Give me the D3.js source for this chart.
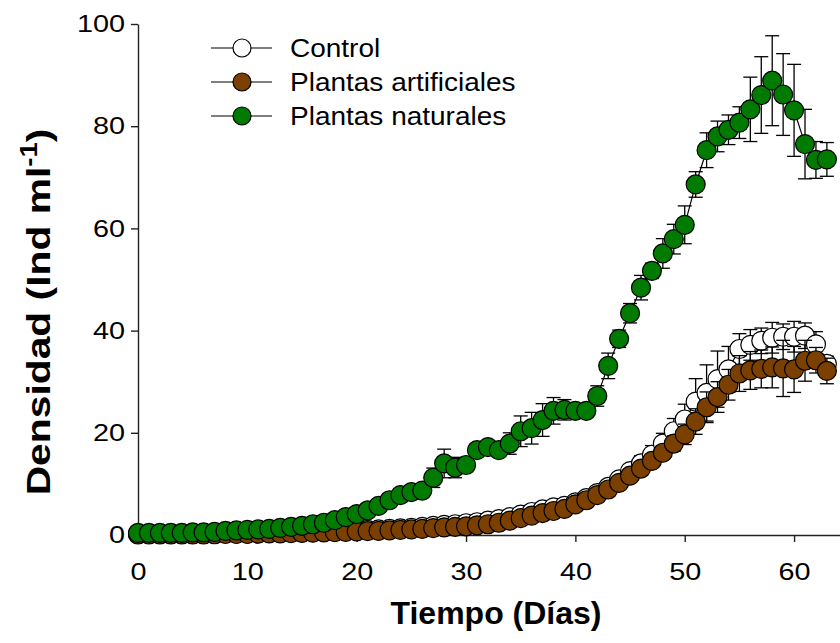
<!DOCTYPE html>
<html>
<head>
<meta charset="utf-8">
<script src="https://cdn.jsdelivr.net/npm/d3@7/dist/d3.min.js"></script>
<style>
  html, body { margin: 0; padding: 0; background: #fff; }
  svg { display: block; font-family: "Liberation Sans", Arial, sans-serif; }
</style>
</head>
<body>
<svg id="chart" width="840" height="643"></svg>
<script>
// Sampling days
const days = [0,1,2,3,4,5,6,7,8,9,10,11,12,13,14,15,16,17,18,19,20,21,22,23,24,25,26,27,28,29,30,31,
  32,33,34,35,36,37,38,39,40,41,42,43,44,45,46,47,48,49,50,51,52,53,54,55,56,57,58,59,60,61,62,63];

// Control (mean density, Ind ml-1)
const controlMean = [0.2,0.2,0.2,0.2,0.2,0.2,0.2,0.25,0.3,0.3,0.3,0.35,0.4,0.4,0.45,0.5,0.55,0.6,0.65,0.75,
  0.9,1.0,1.1,1.2,1.3,1.4,1.6,1.8,2.0,2.1,2.3,2.5,2.8,3.1,3.5,4.0,4.5,5.0,5.4,5.7,
  6.4,7.2,8.2,9.4,10.9,12.5,14.0,15.7,17.9,20.3,22.6,26.1,27.8,30.5,32.4,36.4,37.2,38.0,38.6,38.8,
  38.8,39.0,37.3,33.5];
const controlErr = [0.2,0.2,0.2,0.2,0.2,0.2,0.2,0.2,0.2,0.2,0.2,0.2,0.2,0.2,0.2,0.2,0.2,0.2,0.2,0.2,
  0.2,0.2,0.2,0.2,0.2,0.2,0.2,0.2,0.2,0.2,0.2,0.2,0.2,0.2,0.2,0.2,0.2,0.2,0.2,0.2,
  0.3,0.5,0.6,0.8,1.0,1.2,1.5,1.8,2.0,2.5,3.0,4.5,5.5,5.5,4.5,3.0,3.0,2.5,3.0,2.5,
  3.0,2.5,2.5,1.5];

// Plantas artificiales
const artificialMean = [0.1,0.1,0.1,0.1,0.1,0.1,0.1,0.15,0.2,0.2,0.2,0.25,0.3,0.3,0.35,0.4,0.45,0.5,0.55,0.6,
  0.7,0.75,0.8,0.9,1.0,1.1,1.2,1.35,1.5,1.6,1.7,1.9,2.1,2.4,2.8,3.3,3.8,4.3,4.7,5.1,
  6.0,6.8,7.8,8.9,10.2,11.6,13.0,14.5,16.1,17.9,19.7,22.2,25.0,27.0,29.4,31.6,32.2,32.5,32.8,32.6,
  32.4,34.1,34.2,32.1];
const artificialErr = [0.2,0.2,0.2,0.2,0.2,0.2,0.2,0.2,0.2,0.2,0.2,0.2,0.2,0.2,0.2,0.2,0.2,0.2,0.2,0.2,
  0.2,0.2,0.2,0.2,0.2,0.2,0.2,0.2,0.2,0.2,0.2,0.2,0.2,0.2,0.2,0.2,0.2,0.2,0.2,0.2,
  0.2,0.2,0.2,0.3,0.4,0.5,0.8,1.0,1.2,1.5,2.0,2.5,3.0,3.0,3.0,3.5,3.7,3.7,4.0,5.5,
  4.5,4.0,2.5,2.5];

// Plantas naturales
const naturalMean = [0.4,0.4,0.4,0.4,0.4,0.5,0.5,0.6,0.8,0.9,1.0,1.1,1.2,1.4,1.6,1.8,2.1,2.4,2.9,3.5,
  4.1,4.8,5.7,6.8,7.8,8.4,8.7,11.2,14.0,13.2,13.7,16.6,17.2,16.6,17.9,20.3,20.9,22.5,24.3,24.5,
  24.3,24.3,27.2,33.1,38.4,43.4,48.4,51.7,55.1,57.9,60.7,68.6,75.3,78.0,79.3,80.7,83.3,86.1,88.9,86.2,
  83.1,76.5,73.4,73.5];
const naturalErr = [0.2,0.2,0.2,0.2,0.2,0.2,0.2,0.2,0.2,0.2,0.2,0.2,0.2,0.2,0.2,0.2,0.2,0.2,0.3,0.3,
  0.4,0.4,0.5,0.5,0.5,0.6,0.6,1.9,2.8,2.0,1.0,1.0,1.0,1.0,2.1,3.0,3.1,3.2,2.6,2.0,
  1.0,1.0,2.0,2.5,1.7,1.9,2.4,1.5,2.9,2.9,3.7,2.5,3.4,3.0,2.9,3.1,6.3,7.5,8.8,8.0,
  9.0,6.8,3.6,3.3];

const seriesNames = ["Control", "Plantas artificiales", "Plantas naturales"];
const seriesFill = ["#ffffff", "#7b3f00", "#007a00"];

const xTicks = [0, 10, 20, 30, 40, 50, 60];
const yTicks = [0, 20, 40, 60, 80, 100];

const series = [
  { name: seriesNames[0], fill: seriesFill[0], mean: controlMean, err: controlErr },
  { name: seriesNames[1], fill: seriesFill[1], mean: artificialMean, err: artificialErr },
  { name: seriesNames[2], fill: seriesFill[2], mean: naturalMean, err: naturalErr }
];

const svg = d3.select("#chart");
const plotLeft = 138, plotRight = 840, plotTop = 24, plotBottom = 535;
const textWiden = 1.2;   // labels are set slightly wide

const x = d3.scaleLinear().domain([0, 64.2]).range([plotLeft, plotRight]);
const y = d3.scaleLinear().domain([0, 100]).range([plotBottom, plotTop]);

// Axes
const xAxis = svg.append("g").attr("transform", `translate(0,${plotBottom})`)
  .call(d3.axisBottom(x).tickValues(xTicks).tickSize(7).tickPadding(21).tickSizeOuter(0));
const yAxis = svg.append("g").attr("transform", `translate(${plotLeft},0)`)
  .call(d3.axisLeft(y).tickValues(yTicks).tickSize(7).tickPadding(6).tickSizeOuter(0));
[xAxis, yAxis].forEach(g => {
  g.select(".domain").attr("stroke", "#222").attr("stroke-width", 1.4);
  g.selectAll(".tick line").attr("stroke", "#222").attr("stroke-width", 1.4);
  g.selectAll(".tick text").attr("font-size", 24).attr("fill", "#000")
    .attr("font-family", "'Liberation Sans', Arial, sans-serif")
    .attr("transform", `scale(${textWiden},1)`);
});
yAxis.selectAll(".tick text").attr("x", -13 / textWiden);

// Axis titles
svg.append("text")
  .attr("x", 496).attr("y", 624)
  .attr("text-anchor", "middle")
  .attr("font-size", 32).attr("font-weight", "bold")
  .text("Tiempo (Días)");

const yTitle = svg.append("text")
  .attr("transform", "translate(50,312) rotate(-90) scale(1.2,1)")
  .attr("text-anchor", "middle")
  .attr("font-size", 34).attr("font-weight", "bold");
yTitle.append("tspan").text("Densidad (Ind ml");
yTitle.append("tspan").attr("font-size", 23).attr("dy", -13).text("-1");
yTitle.append("tspan").attr("dy", 13).text(")");

// Series: connecting line, error bars, markers
const r = 9.5, cap = 7;
const line = d3.line().x((d, i) => x(days[i])).y(d => y(d));

series.forEach(s => {
  const g = svg.append("g");
  g.append("path")
    .attr("d", line(s.mean))
    .attr("fill", "none").attr("stroke", "#000").attr("stroke-width", 1.2);

  const eb = g.append("g").attr("stroke", "#000").attr("stroke-width", 1.3);
  s.mean.forEach((m, i) => {
    const cx = x(days[i]);
    const y1 = y(m + s.err[i]), y2 = y(m - s.err[i]);
    eb.append("line").attr("x1", cx).attr("x2", cx).attr("y1", y1).attr("y2", y2);
    eb.append("line").attr("x1", cx - cap).attr("x2", cx + cap).attr("y1", y1).attr("y2", y1);
    eb.append("line").attr("x1", cx - cap).attr("x2", cx + cap).attr("y1", y2).attr("y2", y2);
  });

  g.selectAll("circle").data(s.mean).join("circle")
    .attr("cx", (d, i) => x(days[i]))
    .attr("cy", d => y(d))
    .attr("r", r)
    .attr("fill", s.fill)
    .attr("stroke", "#000").attr("stroke-width", 1.2);
});

// Legend
const legend = svg.append("g");
series.forEach((s, i) => {
  const ly = 48 + i * 34;
  legend.append("line").attr("x1", 211).attr("x2", 272).attr("y1", ly).attr("y2", ly)
    .attr("stroke", "#000").attr("stroke-width", 1.2);
  legend.append("circle").attr("cx", 242).attr("cy", ly).attr("r", 9)
    .attr("fill", s.fill).attr("stroke", "#000").attr("stroke-width", 1.2);
  legend.append("text")
    .attr("transform", `translate(290,${ly + 9}) scale(1.12,1)`)
    .attr("font-size", 25).text(s.name);
});
</script>
</body>
</html>
